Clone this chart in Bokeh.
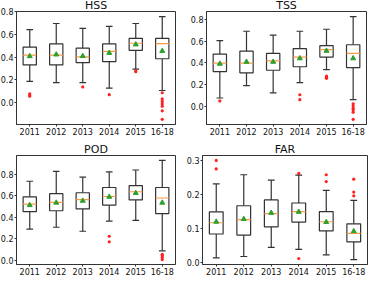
from bokeh.plotting import figure
from bokeh.layouts import column, row
from bokeh.models import ColumnDataSource, FixedTicker, PrintfTickFormatter, Range1d
from bokeh.embed import file_html
from bokeh.resources import INLINE

categories = ["2011", "2012", "2013", "2014", "2015", "16-18"]

hss_lo = [0.187, 0.176, 0.176, 0.128, 0.295, 0.108]
hss_q1 = [0.332, 0.332, 0.352, 0.360, 0.460, 0.386]
hss_med = [0.417, 0.417, 0.403, 0.451, 0.522, 0.519]
hss_q3 = [0.488, 0.516, 0.479, 0.516, 0.565, 0.565]
hss_hi = [0.641, 0.695, 0.652, 0.670, 0.695, 0.755]
hss_mean = [0.408, 0.423, 0.409, 0.437, 0.511, 0.454]
hss_out = [[0.079, 0.066, 0.058], [], [0.139], [0.071], [0.281, 0.272],
           [0.088, 0.034, 0.012, -0.01, -0.03, -0.07, -0.145]]
hss_ticks = [0.0, 0.2, 0.4, 0.6, 0.8]

tss_lo = [0.077, 0.19, 0.124, 0.219, 0.338, 0.062]
tss_q1 = [0.32, 0.308, 0.332, 0.364, 0.453, 0.356]
tss_med = [0.397, 0.397, 0.418, 0.453, 0.521, 0.486]
tss_q3 = [0.48, 0.507, 0.486, 0.53, 0.557, 0.566]
tss_hi = [0.604, 0.69, 0.655, 0.69, 0.708, 0.824]
tss_mean = [0.391, 0.409, 0.409, 0.441, 0.51, 0.441]
tss_out = [[0.05], [], [], [0.107, 0.062], [0.279, 0.268, 0.258],
           [0.024, 0.003, -0.018, -0.033, -0.053, -0.119]]
tss_ticks = [0.0, 0.2, 0.4, 0.6, 0.8]

pod_lo = [0.29, 0.307, 0.27, 0.365, 0.371, 0.087]
pod_q1 = [0.452, 0.461, 0.478, 0.513, 0.562, 0.435]
pod_med = [0.522, 0.539, 0.565, 0.594, 0.638, 0.58]
pod_q3 = [0.591, 0.62, 0.629, 0.678, 0.696, 0.678]
pod_hi = [0.736, 0.829, 0.774, 0.823, 0.841, 0.93]
pod_mean = [0.513, 0.536, 0.554, 0.591, 0.626, 0.536]
pod_out = [[], [], [], [0.223, 0.171], [], [0.055, 0.041, 0.026, 0.006]]
pod_ticks = [0.0, 0.2, 0.4, 0.6, 0.8]

far_lo = [0.014, 0.018, 0.045, 0.039, 0.023, 0.009]
far_q1 = [0.084, 0.081, 0.105, 0.119, 0.093, 0.061]
far_med = [0.117, 0.126, 0.144, 0.15, 0.12, 0.086]
far_q3 = [0.149, 0.167, 0.184, 0.175, 0.15, 0.114]
far_hi = [0.231, 0.258, 0.242, 0.257, 0.212, 0.183]
far_mean = [0.12, 0.128, 0.146, 0.149, 0.119, 0.092]
far_out = [[0.3, 0.275], [], [], [0.262, 0.012], [0.258, 0.238], [0.245, 0.207, 0.196]]
far_ticks = [0.0, 0.1, 0.2, 0.3]

FONT = "DejaVu Sans"
LINE = "#333333"


def make_panel(title, lo, q1, med, q3, hi, mean, outs, ticks,
               width, height, bl, br, bt, bb):
    xs = list(range(1, len(categories) + 1))
    allv = lo + hi + [v for o in outs for v in o]
    vmin, vmax = min(allv), max(allv)
    pad = 0.05 * (vmax - vmin)
    p = figure(width=width, height=height, output_backend="svg",
               toolbar_location=None, title=title,
               x_range=Range1d(0.5, len(categories) + 0.5),
               y_range=Range1d(vmin - pad, vmax + pad),
               min_border_left=bl, min_border_right=br,
               min_border_top=bt, min_border_bottom=bb)
    p.title.align = "center"
    p.title.text_font = FONT
    p.title.text_font_size = "11px"
    p.title.text_font_style = "normal"
    p.title.text_color = "#111111"
    p.title.standoff = 0
    p.title.offset = 0
    p.outline_line_color = LINE
    p.outline_line_width = 1
    p.xgrid.visible = False
    p.ygrid.visible = False
    p.background_fill_color = "white"
    p.border_fill_alpha = 0

    src = ColumnDataSource(dict(
        x=xs, lo=lo, q1=q1, med=med, q3=q3, hi=hi, mean=mean,
        xl=[x - 0.25 for x in xs], xr=[x + 0.25 for x in xs],
        cl=[x - 0.125 for x in xs], cr=[x + 0.125 for x in xs]))
    lw = 1.2
    p.segment(x0="x", y0="lo", x1="x", y1="q1", source=src, line_color=LINE, line_width=lw)
    p.segment(x0="x", y0="q3", x1="x", y1="hi", source=src, line_color=LINE, line_width=lw)
    p.segment(x0="cl", y0="lo", x1="cr", y1="lo", source=src, line_color=LINE, line_width=lw)
    p.segment(x0="cl", y0="hi", x1="cr", y1="hi", source=src, line_color=LINE, line_width=lw)
    p.quad(left="xl", right="xr", bottom="q1", top="q3", source=src,
           fill_color="white", line_color=LINE, line_width=lw)
    p.segment(x0="xl", y0="med", x1="xr", y1="med", source=src,
              line_color="#fb9a45", line_width=1.2)
    p.scatter(x="x", y="mean", source=src, marker="triangle", size=5,
              fill_color="#2ca02c", line_color="#2ca02c")
    ox = [xs[i] for i, o in enumerate(outs) for _ in o]
    oy = [v for o in outs for v in o]
    p.scatter(x=ox, y=oy, marker="circle", size=3.2, fill_color="#ff2020", line_color=None)

    p.xaxis.ticker = FixedTicker(ticks=xs)
    p.xaxis.major_label_overrides = {x: c for x, c in zip(xs, categories)}
    p.yaxis.ticker = FixedTicker(ticks=ticks)
    p.yaxis.formatter = PrintfTickFormatter(format="%.1f")
    for ax in (p.xaxis, p.yaxis):
        ax.major_label_text_font = FONT
        ax.major_label_text_font_size = "8px"
        ax.major_label_text_color = "#111111"
        ax.axis_line_color = LINE
        ax.major_tick_line_color = LINE
        ax.major_tick_out = 2
        ax.major_tick_in = 0
        ax.minor_tick_line_color = None
        ax.major_label_standoff = 1
    return p


p1 = make_panel("HSS", hss_lo, hss_q1, hss_med, hss_q3, hss_hi, hss_mean, hss_out, hss_ticks,
                183, 147, 17, 5, 13, 19)
p2 = make_panel("TSS", tss_lo, tss_q1, tss_med, tss_q3, tss_hi, tss_mean, tss_out, tss_ticks,
                188, 147, 26, 2, 13, 19)
p3 = make_panel("POD", pod_lo, pod_q1, pod_med, pod_q3, pod_hi, pod_mean, pod_out, pod_ticks,
                183, 143, 17, 5, 13, 19)
p4 = make_panel("FAR", far_lo, far_q1, far_med, far_q3, far_hi, far_mean, far_out, far_ticks,
                188, 143, 22, 1, 13, 19)
p3.margin = (-3, 0, 0, 0)
p4.margin = (-3, 0, 0, 0)

layout = column(row(p1, p2), row(p3, p4))
layout.margin = (-4, 0, -6, -3)

open("out.html", "w").write(file_html(layout, INLINE))
